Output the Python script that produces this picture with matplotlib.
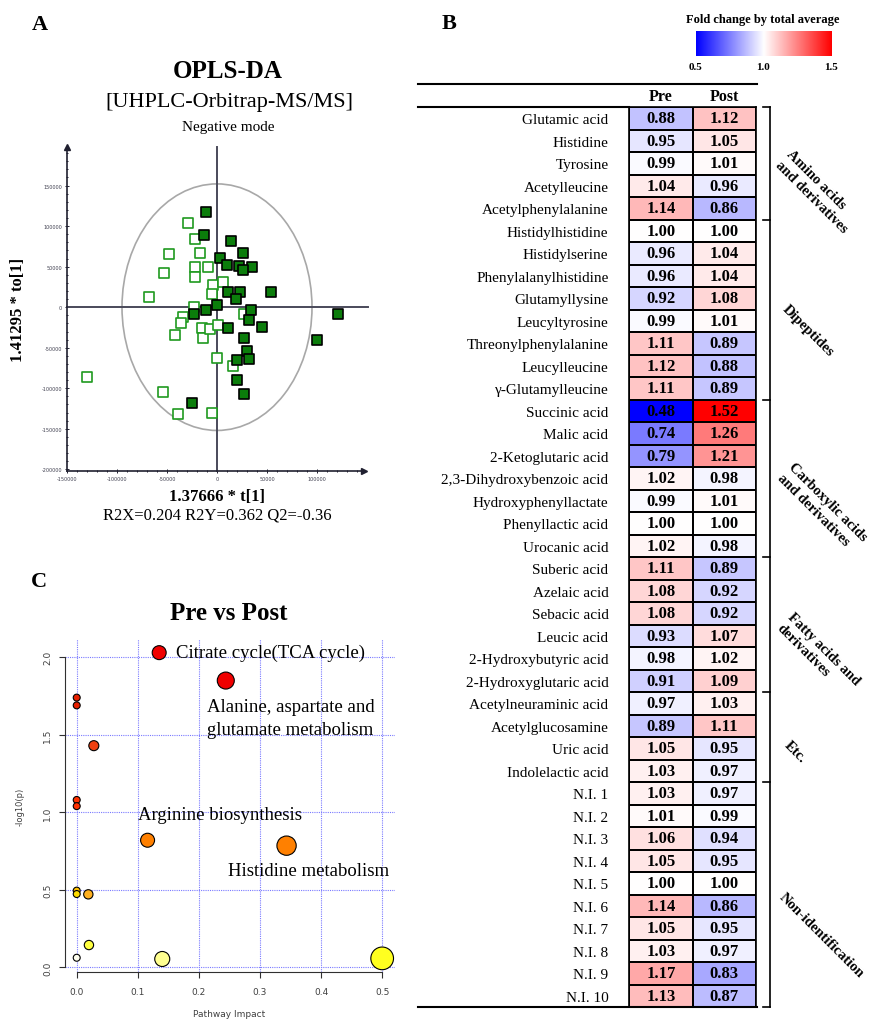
import numpy as np
import matplotlib.pyplot as plt
from matplotlib.patches import Ellipse
from matplotlib.ticker import MultipleLocator, FixedLocator

W, H = 869, 1020
SERIF = 'Liberation Serif'

# panel A: OPLS-DA score plot
pre_t = [-29300, -22000, -17000, -48000, -53000, -22000, -22000, -8700, -3700, -5300,
         -68000, -22700, -33700, -36000, -42000, -14700, -14300, -7000, 700, 5700,
         27000, -300, 15700, -130300, -53700, -38700, -5300]
pre_to = [103700, 84000, 66700, 65400, 41600, 49800, 37400, 49800, 27200, 16000,
          12700, 400, -11500, -20100, -34600, -25100, -38300, -26300, -22200, 31200,
          -8600, -63000, -72400, -85600, -104500, -131200, -130000]
post_t = [-11300, -13300, 14000, 26300, 3000, 10300, 22000, 34700, 26300, 11300,
          23000, 19000, 54000, -300, -11000, -22700, 33700, 32300, 44700, 10700,
          120700, 99700, 27300, 30300, 32300, 19700, 19700, 27300, -25000]
post_to = [117700, 88900, 81900, 66700, 60500, 51800, 51000, 49800, 45700, 18900,
           18900, 9900, 19300, 2900, -3300, -8600, -3300, -15600, -23900, -25100,
           -7800, -40700, -37400, -53900, -64200, -65400, -89700, -107400, -117700]

# panel B: fold change by total average
metabolites = ['Glutamic acid', 'Histidine', 'Tyrosine', 'Acetylleucine', 'Acetylphenylalanine',
               'Histidylhistidine', 'Histidylserine', 'Phenylalanylhistidine', 'Glutamyllysine',
               'Leucyltyrosine', 'Threonylphenylalanine', 'Leucylleucine', 'γ-Glutamylleucine',
               'Succinic acid', 'Malic acid', '2-Ketoglutaric acid', '2,3-Dihydroxybenzoic acid',
               'Hydroxyphenyllactate', 'Phenyllactic acid', 'Urocanic acid',
               'Suberic acid', 'Azelaic acid', 'Sebacic acid', 'Leucic acid',
               '2-Hydroxybutyric acid', '2-Hydroxyglutaric acid',
               'Acetylneuraminic acid', 'Acetylglucosamine', 'Uric acid', 'Indolelactic acid',
               'N.I. 1', 'N.I. 2', 'N.I. 3', 'N.I. 4', 'N.I. 5',
               'N.I. 6', 'N.I. 7', 'N.I. 8', 'N.I. 9', 'N.I. 10']
pre_fc = [0.88, 0.95, 0.99, 1.04, 1.14, 1.00, 0.96, 0.96, 0.92, 0.99, 1.11, 1.12, 1.11,
          0.48, 0.74, 0.79, 1.02, 0.99, 1.00, 1.02, 1.11, 1.08, 1.08, 0.93, 0.98, 0.91,
          0.97, 0.89, 1.05, 1.03, 1.03, 1.01, 1.06, 1.05, 1.00, 1.14, 1.05, 1.03, 1.17, 1.13]
post_fc = [1.12, 1.05, 1.01, 0.96, 0.86, 1.00, 1.04, 1.04, 1.08, 1.01, 0.89, 0.88, 0.89,
           1.52, 1.26, 1.21, 0.98, 1.01, 1.00, 0.98, 0.89, 0.92, 0.92, 1.07, 1.02, 1.09,
           1.03, 1.11, 0.95, 0.97, 0.97, 0.99, 0.94, 0.95, 1.00, 0.86, 0.95, 0.97, 0.83, 0.87]
groups = ['Amino acids\nand derivatives', 'Dipeptides', 'Carboxylic acids\nand derivatives',
          'Fatty acids and\nderivatives', 'Etc.', 'Non-identification']
group_sizes = [5, 8, 7, 6, 4, 10]

# panel C: pathway analysis
impact = [0.135, 0.244, 0.0, 0.0, 0.028, 0.0, 0.0, 0.116, 0.3435, 0.0, 0.0, 0.019, 0.020, 0.0, 0.140, 0.5]
neglogp = [2.03, 1.85, 1.74, 1.69, 1.43, 1.08, 1.04, 0.82, 0.785, 0.495, 0.473, 0.471, 0.144, 0.062, 0.054, 0.058]
pathways = ['Citrate cycle(TCA cycle)', 'Alanine, aspartate and\nglutamate metabolism',
            'Arginine biosynthesis', 'Histidine metabolism']

# styles
bubble_size = [101, 150, 25, 25, 52, 25, 25, 101, 193, 25, 25, 45, 45, 25, 117, 267]
bubble_color = ['#f00000', '#f00000', '#e82000', '#e82000', '#f04010', '#ff3000', '#ff3000',
                '#ff8000', '#ff8000', '#ffc000', '#ffdc00', '#ffb020', '#ffff40', '#fffff0',
                '#ffff90', '#ffff20']
label_pos = [(0.1625, 2.03), (0.2127, 1.61), (0.101, 0.983), (0.247, 0.623)]
group_label_pos = [(2.96, 3.73), (2.82, 9.91), (3.04, 17.78), (2.98, 24.31), (2.62, 28.62), (3.04, 36.8)]


def box(x0, y0, x1, y1):
    return [x0 / W, 1 - y1 / H, (x1 - x0) / W, (y1 - y0) / H]


fig = plt.figure(figsize=(W / 100, H / 100), dpi=100)

# ---------------- A ----------------
axA = fig.add_axes(box(67, 148, 364, 472))
axA.set_xlim(-150000, 147000)
axA.set_ylim(-202000, 197500)
axA.add_patch(Ellipse((0, 0), 190000, 304000, facecolor='none', edgecolor='#a8a8a8', lw=1.2))
axA.plot([-150000, 151000], [0, 0], color='#4a4a5a', lw=1.4, clip_on=False)
axA.plot([0, 0], [-202000, 197500], color='#4a4a5a', lw=1.4, clip_on=False)
axA.scatter(pre_t, pre_to, marker='s', s=52, facecolor='white', edgecolor='#1f9a1f', lw=1.2, zorder=3)
axA.scatter(post_t, post_to, marker='s', s=62, facecolor='#0b7d0b', edgecolor='black', lw=1.2, zorder=4)
for s in ['top', 'right']:
    axA.spines[s].set_visible(False)
for s in ['left', 'bottom']:
    axA.spines[s].set_color('#202030')
    axA.spines[s].set_linewidth(1.2)
axA.plot([-150000], [197500], marker='^', color='#202030', ms=4, clip_on=False)
axA.plot([147000], [-202000], marker='>', color='#202030', ms=4, clip_on=False)
xt = [-150000, -100000, -50000, 0, 50000, 100000]
yt = [-200000, -150000, -100000, -50000, 0, 50000, 100000, 150000]
axA.xaxis.set_major_locator(FixedLocator(xt))
axA.yaxis.set_major_locator(FixedLocator(yt))
axA.set_xticklabels([str(v) for v in xt])
axA.set_yticklabels([str(v) for v in yt])
axA.xaxis.set_minor_locator(MultipleLocator(10000))
axA.yaxis.set_minor_locator(MultipleLocator(10000))
axA.tick_params(which='both', direction='inout', color='#202030', labelsize=3.5,
                labelcolor='#404050', length=3, width=0.7, pad=2)
axA.tick_params(which='minor', length=2)

# ---------------- B ----------------
axB = fig.add_axes(box(629.3, 108, 756, 1008))
vals = np.column_stack([pre_fc, post_fc])
axB.pcolormesh(vals, cmap='bwr', vmin=0.5, vmax=1.5, edgecolors='black', linewidth=1.2)
axB.set_xlim(0, 2)
axB.set_ylim(len(metabolites), 0)
for i in range(len(metabolites)):
    for j in range(2):
        axB.text(j + 0.5, i + 0.5, f'{vals[i, j]:.2f}', ha='center', va='center',
                 fontsize=12, fontweight='bold', family=SERIF)
axB.set_xticks([])
axB.set_yticks(np.arange(len(metabolites)) + 0.5)
axB.set_yticklabels(metabolites, fontsize=11, family=SERIF)
axB.tick_params(axis='y', length=0, pad=15)
for s in axB.spines.values():
    s.set_linewidth(1.2)
for j, name in enumerate(['Pre', 'Post']):
    axB.text(j + 0.5, -0.5, name, ha='center', va='center', fontsize=11.5,
             fontweight='bold', family=SERIF)

bounds = np.concatenate([[0], np.cumsum(group_sizes)])
axB.plot([2.221, 2.221], [bounds[0], bounds[-1]], color='black', lw=1.2, clip_on=False)
for b in bounds:
    axB.plot([2.11, 2.221], [b, b], color='black', lw=1.2, clip_on=False)
for g, (gx, gy) in zip(groups, group_label_pos):
    axB.text(gx, gy, g, rotation=-45, rotation_mode='anchor', ha='center', va='center',
             multialignment='left', fontsize=10.5, fontweight='bold', family=SERIF,
             linespacing=1.3)

# colour bar
axCb = fig.add_axes(box(695.7, 32.3, 831, 57.3))
axCb.imshow(np.linspace(0.5, 1.5, 256)[None, :], cmap='bwr', vmin=0.5, vmax=1.5,
            extent=[0.5, 1.5, 0, 1], aspect='auto')
axCb.set_yticks([])
axCb.set_xticks([0.5, 1.0, 1.5])
axCb.set_xticklabels(['0.5', '1.0', '1.5'], fontsize=8, fontweight='bold', family=SERIF)
axCb.tick_params(axis='x', length=0, pad=4)
for s in axCb.spines.values():
    s.set_visible(False)

# ---------------- C ----------------
axC = fig.add_axes(box(64.5, 639.7, 395, 972.7))
axC.set_xlim(-0.02, 0.521)
axC.set_ylim(-0.028, 2.12)
axC.set_xticks([0, 0.1, 0.2, 0.3, 0.4, 0.5])
axC.set_yticks([0, 0.5, 1.0, 1.5, 2.0])
axC.grid(True, color='#7a7aff', linestyle=(0, (1, 1)), lw=0.8)
axC.set_axisbelow(True)
axC.scatter(impact, neglogp, s=bubble_size, c=bubble_color, edgecolors='black', linewidths=0.8, zorder=3)
for name, (lx, ly) in zip(pathways, label_pos):
    axC.text(lx, ly, name, ha='left', va='center', fontsize=13.5, family=SERIF,
             linespacing=1.45, zorder=4)
for s in ['top', 'right']:
    axC.spines[s].set_visible(False)
axC.spines['left'].set_bounds(0, 2.0)
axC.spines['bottom'].set_bounds(0, 0.5)
for s in ['left', 'bottom']:
    axC.spines[s].set_color('#303030')
axC.set_xticklabels(['0.0', '0.1', '0.2', '0.3', '0.4', '0.5'])
axC.set_yticklabels(['0.0', '0.5', '1.0', '1.5', '2.0'], rotation=90, va='center')
axC.tick_params(labelsize=6.5, labelcolor='#404040', color='#303030', length=4)
axC.tick_params(axis='x', pad=7)
axC.tick_params(axis='y', pad=5)

# ---------------- overlay text and rules ----------------
ov = fig.add_axes([0, 0, 1, 1])
ov.set_xlim(0, W)
ov.set_ylim(H, 0)
ov.axis('off')

for lab, (x, y) in zip(['A', 'B', 'C'], [(40, 25), (449, 24), (39, 582)]):
    ov.text(x, y, lab, ha='center', va='center', fontsize=16, fontweight='bold', family=SERIF)

ov.text(228, 72, 'OPLS-DA', ha='center', va='center', fontsize=18, fontweight='bold', family=SERIF)
ov.text(229, 102, '[UHPLC-Orbitrap-MS/MS]', ha='center', va='center', fontsize=16, family=SERIF)
ov.text(228, 127, 'Negative mode', ha='center', va='center', fontsize=11, family=SERIF)
ov.text(18, 310, '1.41295 * to[1]', ha='center', va='center', rotation=90, fontsize=12,
        fontweight='bold', family=SERIF)
ov.text(217, 497, '1.37666 * t[1]', ha='center', va='center', fontsize=12, fontweight='bold', family=SERIF)
ov.text(217, 516, 'R2X=0.204 R2Y=0.362 Q2=-0.36', ha='center', va='center', fontsize=12, family=SERIF)

ov.text(229, 614, 'Pre vs Post', ha='center', va='center', fontsize=18, fontweight='bold', family=SERIF)
ov.text(20, 807, '-log10(p)', ha='center', va='center', rotation=90, fontsize=6, color='#404040')
ov.text(229, 1015, 'Pathway Impact', ha='center', va='center', fontsize=6.5, color='#404040')

ov.text(763, 20, 'Fold change by total average', ha='center', va='center', fontsize=9,
        fontweight='bold', family=SERIF)
ov.plot([418, 757], [84.7, 84.7], color='black', lw=1.5)
ov.plot([418, 629.3], [107.7, 107.7], color='black', lw=1.5)
ov.plot([418, 757], [1008, 1008], color='black', lw=1.5)

fig.savefig('out.png', dpi=100)
